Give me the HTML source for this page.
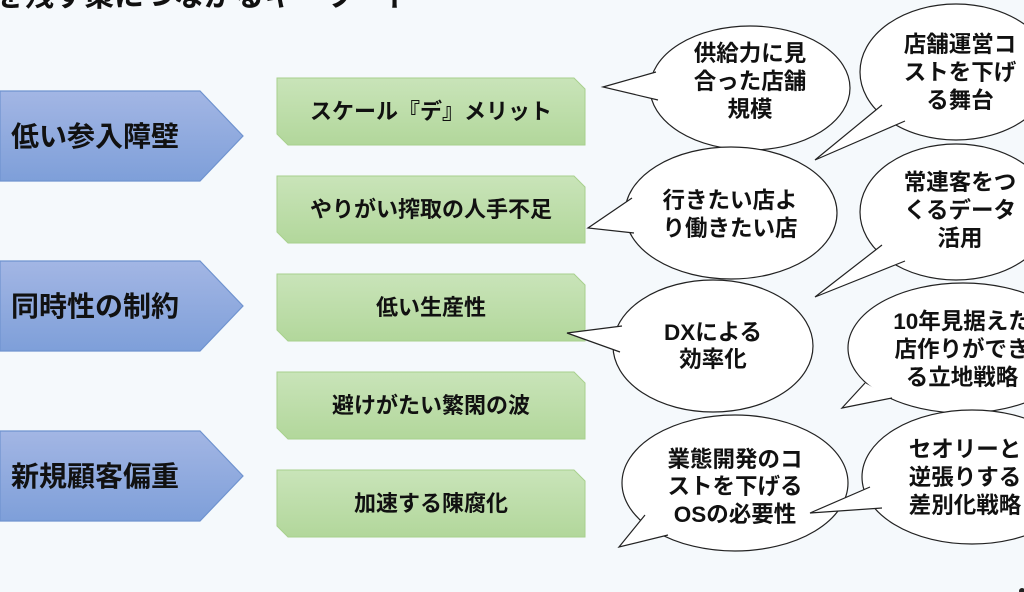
<!DOCTYPE html>
<html><head><meta charset="utf-8"><style>
html,body{margin:0;padding:0;background:#f5f9fc;}
svg{display:block;}
text{font-family:"Liberation Sans","Noto Sans CJK JP",sans-serif;font-weight:bold;fill:#111;}
</style></head><body>
<svg width="1024" height="592" viewBox="0 0 1024 592" xmlns="http://www.w3.org/2000/svg">
<defs>
<linearGradient id="bl" x1="0" y1="0" x2="0" y2="1"><stop offset="0" stop-color="#a3b6e4"/><stop offset="1" stop-color="#7e9fd9"/></linearGradient>
<linearGradient id="gr" x1="0" y1="0" x2="0" y2="1"><stop offset="0" stop-color="#c9e4b9"/><stop offset="1" stop-color="#b2d79b"/></linearGradient>
</defs>
<rect width="1024" height="592" fill="#f5f9fc"/>
<text x="-6" y="6" font-size="30">を残す策につながるキーワード</text>

<g stroke="#6f93cf" stroke-width="1.2" fill="url(#bl)">
<polygon points="0,91 200,91 243,136 200,181 0,181"/>
<polygon points="0,261 200,261 243,306 200,351 0,351"/>
<polygon points="0,431 200,431 243,476 200,521 0,521"/>
</g>
<g font-size="28">
<text x="11" y="146">低い参入障壁</text>
<text x="11" y="316">同時性の制約</text>
<text x="11" y="486">新規顧客偏重</text>
</g>

<g stroke="#a8d08d" stroke-width="1" fill="url(#gr)">
<polygon points="277,78 574,78 585,89 585,145 288,145 277,134"/>
<polygon points="277,176 574,176 585,187 585,243 288,243 277,232"/>
<polygon points="277,274 574,274 585,285 585,341 288,341 277,330"/>
<polygon points="277,372 574,372 585,383 585,439 288,439 277,428"/>
<polygon points="277,470 574,470 585,481 585,537 288,537 277,526"/>
</g>
<g font-size="22" text-anchor="middle">
<text x="431" y="119">スケール『デ』メリット</text>
<text x="431" y="217">やりがい搾取の人手不足</text>
<text x="431" y="315">低い生産性</text>
<text x="431" y="413">避けがたい繁閑の波</text>
<text x="431" y="511">加速する陳腐化</text>
</g>

<g fill="#fff" stroke="#222" stroke-width="1.2">
<ellipse cx="750" cy="88" rx="100" ry="62"/>
<polyline points="656,72 603,87 658,100"/>
<ellipse cx="956" cy="72" rx="96" ry="68"/>
<polyline points="882,105 815,160 905,121"/>
<ellipse cx="731" cy="213" rx="106" ry="66"/>
<polyline points="632,198 588,228 634,233"/>
<ellipse cx="956" cy="212" rx="96" ry="68"/>
<polyline points="882,245 815,297 905,261"/>
<ellipse cx="713" cy="346" rx="100" ry="66"/>
<polyline points="622,326 567,333 620,352"/>
<ellipse cx="963" cy="348" rx="115" ry="65"/>
<polyline points="865,383 842,408 892,398"/>
<ellipse cx="735" cy="483" rx="113" ry="68"/>
<polyline points="645,515 619,547 668,535"/>
<ellipse cx="972" cy="477" rx="110" ry="67"/>
<polyline points="870,487 810,513 882,508"/>
</g>

<g font-size="22.5" text-anchor="middle">
<text x="750" y="61">供給力に見</text><text x="750" y="89">合った店舗</text><text x="750" y="117">規模</text>
<text x="960" y="52">店舗運営コ</text><text x="960" y="80">ストを下げ</text><text x="960" y="108">る舞台</text>
<text x="730" y="208">行きたい店よ</text><text x="730" y="236">り働きたい店</text>
<text x="960" y="190">常連客をつ</text><text x="960" y="218">くるデータ</text><text x="960" y="246">活用</text>
<text x="713" y="340">DXによる</text><text x="713" y="367">効率化</text>
<text x="962" y="329">10年見据えた</text><text x="962" y="357">店作りができ</text><text x="962" y="385">る立地戦略</text>
<text x="735" y="467">業態開発のコ</text><text x="735" y="494">ストを下げる</text><text x="735" y="522">OSの必要性</text>
<text x="965" y="457">セオリーと</text><text x="965" y="485">逆張りする</text><text x="965" y="513">差別化戦略</text>
</g>
<circle cx="1022" cy="591" r="3" fill="#222"/>
</svg>
</body></html>
